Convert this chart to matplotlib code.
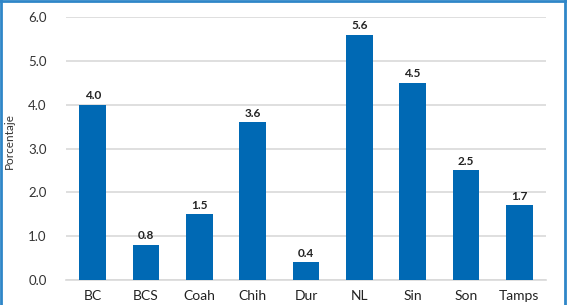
import matplotlib
matplotlib.use("Agg")
import matplotlib.pyplot as plt
from matplotlib.lines import Line2D

states = ["BC", "BCS", "Coah", "Chih", "Dur", "NL", "Sin", "Son", "Tamps"]
values = [4.0, 0.8, 1.5, 3.6, 0.4, 5.6, 4.5, 2.5, 1.7]
labels = ["4.0", "0.8", "1.5", "3.6", "0.4", "5.6", "4.5", "2.5", "1.7"]
yticks = [0.0, 1.0, 2.0, 3.0, 4.0, 5.0, 6.0]

plt.rcParams["font.family"] = ["Lato", "DejaVu Sans"]

fig = plt.figure(figsize=(5.67, 3.05), dpi=100)
ax = fig.add_axes([66 / 567, 1 - 280 / 305, (546 - 66) / 567, (280 - 17) / 305])

x = list(range(len(states)))
ax.bar(x, values, width=0.5, color="#0069B4", zorder=3)
for xi, v, lab in zip(x, values, labels):
    ax.text(xi, v + 0.08, lab, ha="center", va="bottom", fontsize=8.5,
            fontweight="bold", color="#222222")

ax.set_xlim(-0.5, len(states) - 0.5)
ax.set_ylim(0, 6.0)
ax.set_yticks(yticks)
ax.set_yticklabels([f"{t:.1f}" for t in yticks], fontsize=9.5, color="#333333")
ax.set_xticks(x)
ax.set_xticklabels(states, fontsize=10, color="#222222")
ax.tick_params(length=0, pad=7)
ax.tick_params(axis="y", pad=14)
ax.grid(axis="y", color="#d9d9d9", linewidth=1.2, zorder=0)
for s in ["top", "right", "left"]:
    ax.spines[s].set_visible(False)
ax.spines["bottom"].set_color("#d9d9d9")
ax.spines["bottom"].set_linewidth(1.2)
ax.set_ylabel("Porcentaje", fontsize=8.5, color="#333333")
ax.yaxis.set_label_coords(-0.106, 0.53)

# blue frame on left, top and right edges
border = "#2f86c8"
fig.add_artist(Line2D([0.002, 0.002], [0, 1], color=border, linewidth=2, transform=fig.transFigure))
fig.add_artist(Line2D([0, 1], [0.998, 0.998], color=border, linewidth=2, transform=fig.transFigure))
fig.add_artist(Line2D([0.997, 0.997], [0, 1], color=border, linewidth=2, transform=fig.transFigure))

fig.savefig("out.png", dpi=100)
